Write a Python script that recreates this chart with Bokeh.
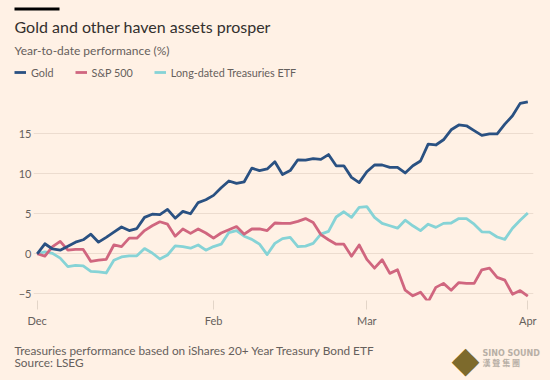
from bokeh.plotting import figure
from bokeh.layouts import column
from bokeh.models import Range1d, FixedTicker, Label, Legend, LegendItem, BoxAnnotation
from bokeh.embed import file_html
from bokeh.resources import INLINE

# ---- data (year-to-date performance, %) ----
gold = [0, 1.25, 0.6, 0.45, 0.95, 1.45, 1.75, 2.45, 1.45, 2.05,
        2.7, 3.35, 2.9, 3.15, 4.55, 4.95, 4.9, 5.55, 4.45, 5.3,
        5.0, 6.4, 6.75, 7.3, 8.25, 9.1, 8.8, 9.0, 10.7, 10.4,
        10.6, 11.5, 9.9, 10.4, 11.75, 11.7, 11.9, 11.8, 12.4, 11.0,
        11.0, 9.55, 8.9, 10.25, 11.1, 11.1, 10.8, 10.8, 10.1, 11.0,
        11.6, 13.7, 13.6, 14.25, 15.5, 16.1, 16.0, 15.4, 14.8, 15.0,
        15.0, 16.2, 17.25, 18.8, 19.0]
sp500 = [0, -0.3, 0.9, 1.55, 0.45, 0.55, 0.55, -0.95, -0.8, -0.7,
         1.1, 0.9, 1.95, 1.95, 2.9, 3.5, 4.0, 3.7, 2.2, 3.1,
         2.55, 3.1, 2.6, 1.95, 2.6, 3.0, 3.4, 2.45, 3.1, 3.1,
         2.9, 3.85, 3.8, 3.8, 4.05, 4.4, 3.9, 2.4, 1.75, 1.2,
         1.2, -0.3, 1.1, -0.7, -1.8, -0.75, -2.45, -2.0, -4.55, -5.25,
         -4.8, -6.0, -4.2, -3.7, -4.55, -3.6, -3.7, -3.7, -2.0, -1.8,
         -2.95, -3.3, -5.05, -4.6, -5.3]
treasuries = [0, 0.25, 0.05, -0.55, -1.6, -1.45, -1.5, -2.2, -2.25, -2.4,
              -0.8, -0.4, -0.25, -0.25, 0.65, 0.1, -0.65, -0.15, 1.0, 0.9,
              0.7, 1.1, 0.45, 0.9, 1.2, 2.65, 2.9, 2.2, 1.8, 1.2,
              -0.1, 1.3, 1.9, 2.05, 0.9, 0.95, 1.3, 2.45, 2.8, 4.6,
              5.25, 4.55, 5.8, 5.9, 4.55, 3.8, 3.5, 3.2, 4.2, 3.5,
              2.9, 3.7, 3.3, 3.8, 3.85, 4.4, 4.4, 3.7, 2.75, 2.7,
              2.1, 1.8, 3.2, 4.2, 5.1]
day = list(range(len(gold)))  # trading-day index

x_tick_pos = [0, 23, 43, 64]
x_tick_labels = ["Dec", "Feb", "Mar", "Apr"]
y_ticks = [-5, 0, 5, 10, 15]

series_names = ["Gold", "S&P 500", "Long-dated Treasuries ETF"]

# ---- styles ----
BG = "#fff1e5"
FONT = "Lato"
GREY = "#66605c"
DARK = "#33302e"
C_GOLD = "#2a5182"
C_SP = "#d0667f"
C_TR = "#86d3d6"
LW = 2.8
W = 550
H_HEAD, H_MAIN, H_FOOT = 86, 249, 45
NAN = float("nan")


def panel_fig(h):
    f = figure(width=W, height=h, output_backend="svg", toolbar_location=None,
               x_range=Range1d(0, W), y_range=Range1d(h, 0),
               x_axis_type=None, y_axis_type=None, min_border=0,
               frame_align=False,
               background_fill_color=BG, border_fill_color=BG, outline_line_color=None)
    f.xgrid.visible = False
    f.ygrid.visible = False
    return f


def lab(f, text, x, y, size, color, font=FONT, style="normal", baseline="middle", align="left"):
    f.add_layout(Label(x=x, y=y, text=text, text_font=font, text_font_size=size,
                       text_color=color, text_font_style=style,
                       text_baseline=baseline, text_align=align))


# ---- header ----
head = panel_fig(H_HEAD)
head.add_layout(BoxAnnotation(left=14, right=59, top=7, bottom=10,
                              fill_color="#000000", fill_alpha=1, line_color=None))
lab(head, "Gold and other haven assets prosper", 14, 25.5, "16px", DARK)
lab(head, "Year-to-date performance (%)", 14, 50, "12px", GREY)

# legend swatch renderers (style carriers only; a single NaN point draws nothing)
lg_gold = head.line([NAN], [NAN], line_color=C_GOLD, line_width=LW)
lg_sp = head.line([NAN], [NAN], line_color=C_SP, line_width=LW)
lg_tr = head.line([NAN], [NAN], line_color=C_TR, line_width=LW)
legend = Legend(items=[LegendItem(label=series_names[0], renderers=[lg_gold]),
                       LegendItem(label=series_names[1], renderers=[lg_sp]),
                       LegendItem(label=series_names[2], renderers=[lg_tr])],
                orientation="horizontal", location=(14, 7),
                glyph_width=12, glyph_height=14, label_height=14, label_standoff=5,
                spacing=21, padding=0, margin=0,
                label_text_font=FONT, label_text_font_size="10.8px", label_text_color=GREY,
                background_fill_alpha=0, border_line_color=None)
head.add_layout(legend)

# ---- main chart ----
p = figure(width=W, height=H_MAIN, output_backend="svg", toolbar_location=None,
           x_range=Range1d(-0.483, 64.74), y_range=Range1d(-5.84, 20.41),
           min_border_left=33, min_border_right=17, min_border_top=4, min_border_bottom=35,
           frame_align=False,
           background_fill_color=BG, border_fill_color=BG, outline_line_color=None)

p.line(day, treasuries, line_color=C_TR, line_width=LW, line_join="round")
p.line(day, sp500, line_color=C_SP, line_width=LW, line_join="round")
p.line(day, gold, line_color=C_GOLD, line_width=LW, line_join="round")

p.xaxis.ticker = FixedTicker(ticks=x_tick_pos)
p.xaxis.major_label_overrides = {t: l for t, l in zip(x_tick_pos, x_tick_labels)}
p.xaxis.axis_line_color = None
p.xaxis.minor_tick_line_color = None
p.xaxis.major_tick_in = 0
p.xaxis.major_tick_out = 9
p.xaxis.major_tick_line_color = "#e3d5c8"
p.xaxis.major_label_standoff = 4
p.xaxis.major_label_text_font = FONT
p.xaxis.major_label_text_font_size = "11px"
p.xaxis.major_label_text_color = GREY

p.yaxis.ticker = FixedTicker(ticks=y_ticks)
p.yaxis.axis_line_color = None
p.yaxis.minor_tick_line_color = None
p.yaxis.major_tick_line_color = None
p.yaxis.major_tick_in = 0
p.yaxis.major_tick_out = 0
p.yaxis.major_label_standoff = 2
p.yaxis.major_label_text_font = FONT
p.yaxis.major_label_text_font_size = "11px"
p.yaxis.major_label_text_color = GREY

p.xgrid.grid_line_color = None
p.ygrid.grid_line_color = "#ecdccf"
p.ygrid.grid_line_width = 1

# ---- footer ----
foot = panel_fig(H_FOOT)
lab(foot, "Treasuries performance based on iShares 20+ Year Treasury Bond ETF", 14, 14.5, "11.8px", GREY)
lab(foot, "Source: LSEG", 14, 27, "11.8px", GREY)
lab(foot, "\u25c6", 465, 24, "36px", "#7d6a2c", font="DejaVu Sans", align="center")
lab(foot, "SINO SOUND", 482, 18, "8px", "#b8afa6", font="DejaVu Sans", style="bold")
lab(foot, "漢 聲 集 團", 482, 26.5, "8px", "#b8afa6", font="Noto Sans CJK TC", style="bold")

layout = column(head, p, foot, spacing=0)

html = file_html(layout, INLINE)
html = html.replace("</head>", "<style>body{background-color:%s;}</style></head>" % BG, 1)
open("out.html", "w").write(html)
